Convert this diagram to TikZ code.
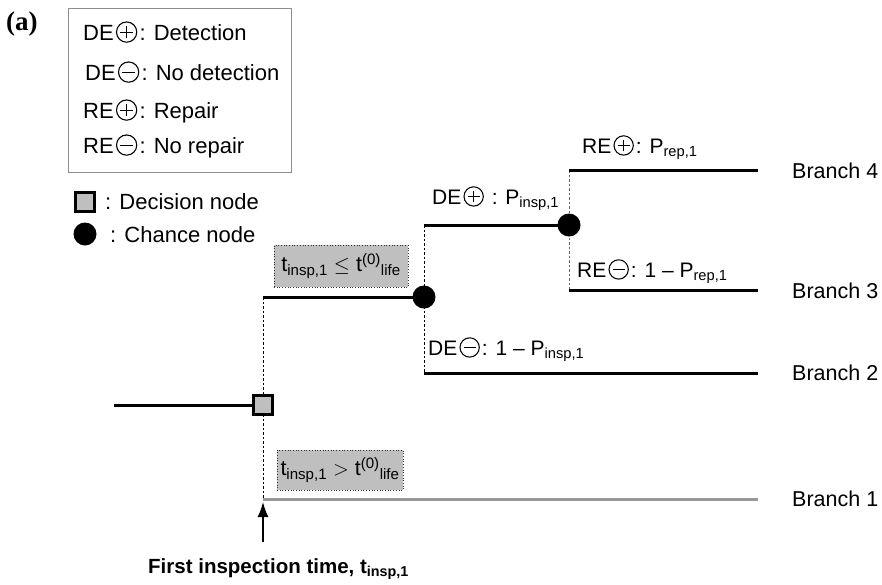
\documentclass[tikz,border=0pt]{standalone}
\usepackage{fontspec}
\setmainfont{Liberation Sans}
\newfontfamily\serifbold{Liberation Serif}
\usetikzlibrary{arrows.meta}
\pgfdeclarelayer{bg}
\pgfsetlayers{bg,main}

\newcommand\cpl{\hspace{0.1em}\tikz[baseline=-0.36em,x=1em,y=1em,line width=0.05em]{\draw (0,0) circle (0.46); \draw (-0.28,0)--(0.28,0) (0,-0.28)--(0,0.28);}\hspace{0.1em}}
\newcommand\cmi{\hspace{0.1em}\tikz[baseline=-0.36em,x=1em,y=1em,line width=0.05em]{\draw (0,0) circle (0.46); \draw (-0.28,0)--(0.28,0);}\hspace{0.1em}}
\newcommand\sbs[1]{\textsubscript{#1}}
\newcommand\sps[1]{\textsuperscript{#1}}

\begin{document}
\begin{tikzpicture}[x=1pt,y=-1pt,
  thickline/.style={line width=3pt, black},
  vdash/.style={line width=0.8pt, dash pattern=on 2.5pt off 2pt},
  chance/.style={circle, fill=black, minimum size=23pt, inner sep=0pt},
  decision/.style={rectangle, draw=black, line width=3pt, fill=black!25, minimum size=19pt, inner sep=0pt},
  condbox/.style={rectangle, fill=black!25, draw=black!80, dotted, line width=0.7pt, inner sep=0pt, font=\fontsize{21.5}{26}\selectfont},
  lbl/.style={anchor=base west, inner sep=0pt},
  leg/.style={lbl, font=\fontsize{22}{26}\selectfont},
  tree/.style={lbl, font=\fontsize{21}{25}\selectfont},
  branchlbl/.style={anchor=west, inner sep=0pt, font=\fontsize{21.5}{26}\selectfont}]
\useasboundingbox (0,0) rectangle (882,584);

% tag
\node[lbl, font=\serifbold\bfseries\fontsize{27}{32}\selectfont] (tag) at (6,30) {(a)};

% legend
\node[rectangle, draw=black!45, line width=1pt, minimum width=223pt, minimum height=164pt, inner sep=0pt] (legend) at (179.5,90) {};
\node[leg] (l1) at (83,40) {DE\cpl: Detection};
\node[leg] (l2) at (85,80) {DE\cmi: No detection};
\node[leg] (l3) at (83,118) {RE\cpl: Repair};
\node[leg] (l4) at (83,153) {RE\cmi: No repair};

\node[decision] (legdec) at (85,202) {};
\node[leg] (legdect) at (105,209) {: Decision node};
\node[chance] (legch) at (85,234) {};
\node[leg] (legcht) at (110,242) {: Chance node};

% tree nodes
\coordinate (start) at (114,405);
\node[decision] (dec) at (263,405) {};
\coordinate (up0) at (263,297);
\coordinate (lo0) at (263,499);
\node[chance] (ch1) at (424,297) {};
\coordinate (de1) at (424,225);
\coordinate (de0) at (424,373);
\node[chance] (ch2) at (569,225) {};
\coordinate (re1) at (569,170);
\coordinate (re0) at (569,290);
\coordinate (end4) at (758,170);
\coordinate (end3) at (758,290);
\coordinate (end2) at (758,373);
\coordinate (end1) at (758,499);
\coordinate (arrtail) at (263,542);

\begin{pgfonlayer}{bg}
  \draw[vdash] (up0) -- (lo0);
  \draw[vdash] (de1) -- (de0);
  \draw[vdash, black!60] (re1) -- (re0);
  \draw[thickline] (start) -- (dec.center);
  \draw[thickline] (up0) -- (ch1.center);
  \draw[thickline] (de1) -- (ch2.center);
  \draw[thickline] (de0) -- (end2);
  \draw[thickline] (re1) -- (end4);
  \draw[thickline] (re0) -- (end3);
  \draw[line width=3pt, black!40] (lo0) -- (end1);
\end{pgfonlayer}

\draw[line width=1.6pt, -{Latex[length=15pt,width=11pt]}] (arrtail) -- ([yshift=-3pt]lo0);

% condition boxes
\node[condbox, minimum width=134pt, minimum height=42pt] (cond1) at (341,266) {t\sbs{insp,1} $\leq$ t\sps{(0)}\sbs{life}};
\node[condbox, minimum width=126pt, minimum height=40pt] (cond0) at (340,470) {t\sbs{insp,1} $>$ t\sps{(0)}\sbs{life}};

% tree labels
\node[tree] (tde1) at (432,204) {DE\cpl\ : P\sbs{insp,1}};
\node[tree] (tde0) at (428,355) {DE\cmi: 1 – P\sbs{insp,1}};
\node[tree] (tre1) at (582,153) {RE\cpl: P\sbs{rep,1}};
\node[tree] (tre0) at (577,277) {RE\cmi: 1 – P\sbs{rep,1}};

% branch labels
\node[branchlbl] (b4) at (792,171) {Branch 4};
\node[branchlbl] (b3) at (792,291) {Branch 3};
\node[branchlbl] (b2) at (792,373) {Branch 2};
\node[branchlbl] (b1) at (792,499) {Branch 1};

% caption
\node[lbl, font=\bfseries\fontsize{20.5}{24}\selectfont] (caption) at (148,573) {First inspection time, t\sbs{insp,1}};
\end{tikzpicture}
\end{document}
